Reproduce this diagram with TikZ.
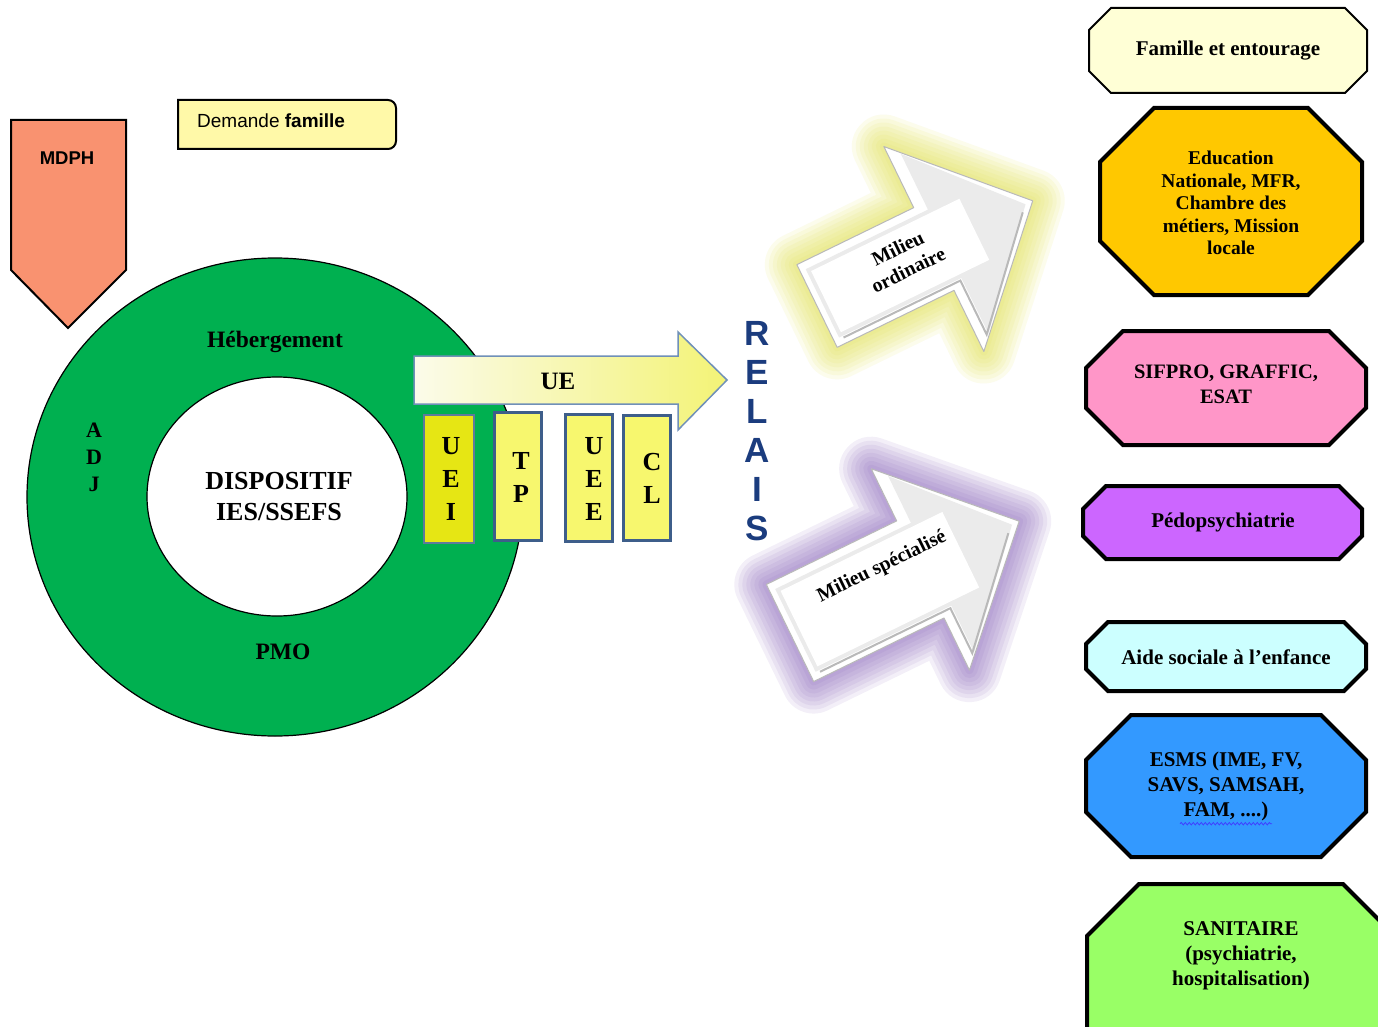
\documentclass[tikz,border=0pt]{standalone}
\usepackage{fontspec}
\setmainfont{Liberation Serif}
\setsansfont{Liberation Sans}
\usetikzlibrary{decorations.pathmorphing}
\definecolor{ringgreen}{HTML}{00B050}
\definecolor{salmon}{HTML}{F99270}
\definecolor{lightyel}{HTML}{FFF9A8}
\definecolor{ueright}{HTML}{F3F376}
\definecolor{ueleft}{HTML}{FBFBEA}
\definecolor{ueline}{HTML}{7090B8}
\definecolor{boxline}{HTML}{3E5E8A}
\definecolor{ueifill}{HTML}{E6E614}
\definecolor{boxfill}{HTML}{F7F76E}
\definecolor{navy}{HTML}{1B3C7E}
\definecolor{glowyel}{HTML}{E2E24A}
\definecolor{glowpur}{HTML}{8A66BC}
\definecolor{cFam}{HTML}{FFFFD6}
\definecolor{cEdu}{HTML}{FFC800}
\definecolor{cSif}{HTML}{FF96C8}
\definecolor{cPed}{HTML}{CC66FF}
\definecolor{cAide}{HTML}{CCFFFF}
\definecolor{cEsms}{HTML}{3399FF}
\definecolor{cSan}{HTML}{99FF66}
\newcommand\mychamf[6]{%
  \draw[#1] (#2+#6,#3) -- (#4-#6,#3) -- (#4,#3+#6) -- (#4,#5-#6) -- (#4-#6,#5) -- (#2+#6,#5) -- (#2,#5-#6) -- (#2,#3+#6) -- cycle;}
\newcommand\bigarr[1]{%
  \path[#1] (0,-\bw) -- (\hb,-\bw) -- (\hb,-\hw) -- (\al,0) -- (\hb,\hw) -- (\hb,\bw) -- (0,\bw) -- cycle;}
\begin{document}
\begin{tikzpicture}[x=1pt,y=-1pt,
  lbl/.style={font=\bfseries\fontsize{21}{25}\selectfont, align=center, text=black, inner sep=0pt},
  ringlbl/.style={font=\bfseries\fontsize{23.5}{27}\selectfont, align=center, inner sep=0pt},
  letters/.style={font=\bfseries\fontsize{26}{33}\selectfont, align=center, inner sep=0pt},
  uebox/.style={draw=boxline, line width=3.5pt, fill=boxfill, minimum width=47pt, inner sep=0pt},
  arrtext/.style={font=\bfseries\fontsize{20}{24}\selectfont, align=center, inner sep=0pt}]
\useasboundingbox (0,0) rectangle (1378,1027);
\fill[white] (0,0) rectangle (1378,1027);

% ---- MDPH pentagon
\draw[fill=salmon, line width=2pt] (11,120) -- (126,120) -- (126,270) -- (68,328) -- (11,270) -- cycle;
\node[font=\sffamily\bfseries\fontsize{18.5}{22}\selectfont, inner sep=0pt] (mdph) at (67,158) {MDPH};

% ---- Demande famille
\draw[fill=lightyel, line width=2pt, rounded corners=0pt] (178,100) -- (388,100) [rounded corners=8pt] -- (396,100) -- (396,149) [rounded corners=0pt] -- (178,149) -- cycle;
\node[font=\sffamily\fontsize{19}{22}\selectfont, inner sep=0pt, anchor=west] (dem) at (197,121) {Demande \textbf{famille}};

% ---- Ring
\fill[ringgreen, even odd rule] (275,497) ellipse [x radius=248, y radius=239] (277,496.5) ellipse [x radius=130, y radius=119.5];
\draw[line width=1.2pt] (275,497) ellipse [x radius=248, y radius=239];
\draw[line width=1.2pt] (277,496.5) ellipse [x radius=130, y radius=119.5];
\node[ringlbl] (heb) at (275,342) {Hébergement};
\node[ringlbl] (pmo) at (283,652) {PMO};
\node[font=\bfseries\fontsize{22}{27}\selectfont, align=center, inner sep=0pt] (adj) at (94,457) {A\\D\\J};
\node[font=\bfseries\fontsize{26}{31}\selectfont, align=center, inner sep=0pt] (disp) at (279,497) {DISPOSITIF\\IES/SSEFS};

% ---- UE arrow
\draw[ueline, line width=1.5pt, left color=ueleft, right color=ueright] (414,356) -- (678,356) -- (678,332) -- (727,380) -- (678,430) -- (678,404) -- (414,404) -- cycle;
\node[font=\bfseries\fontsize{25}{30}\selectfont, inner sep=0pt] (ue) at (558,381) {UE};

% ---- UEI / TP / UEE / CL
\node[uebox, line width=1.5pt, draw=ueline!85!black, fill=ueifill, minimum width=50pt, minimum height=128pt] (uei) at (449,479) {};
\node[letters] at (451,479) (ueit) {U\\E\\I};
\node[uebox, minimum height=128pt] (tp) at (518,476.5) {};
\node[letters] at (521,477.5) (tpt) {T\\P};
\node[uebox, minimum height=127pt] (uee) at (589,478) {};
\node[letters] at (594,478.5) (ueet) {U\\E\\E};
\node[uebox, minimum height=125pt] (cl) at (647,478) {};
\node[letters] at (652,478.5) (clt) {C\\L};

% ---- RELAIS
\node[font=\sffamily\bfseries\fontsize{35}{39}\selectfont, text=navy, align=center, inner sep=0pt] (relais) at (757,431) {R\\E\\L\\A\\I\\S};

% ---- Milieu ordinaire arrow
\begin{scope}[shift={(817,306)}, rotate=26]
  \def\al{240}\def\hb{130}\def\hw{114}\def\bw{46}
  \foreach \w in {64,56,48,40,32,24,16,8}{\bigarr{draw=glowyel, line width=\w pt, line join=round, opacity=0.1}}
  \bigarr{fill=white, draw=gray!55, line width=1pt, line join=round}
  \def\al{226}\def\hb{136}\def\hw{100}\def\bw{38}
  \begin{scope}[shift={(6,0)}]
  \bigarr{fill=gray!16}
  \end{scope}
  \fill[white] (10,-34) rectangle (175,34);
  \draw[gray!55, line width=2pt] (10,40) -- (140,40) -- (140,100) -- (226,6);
\end{scope}
\node[arrtext, rotate=26] (mo) at (903,259) {Milieu\\ordinaire};

% ---- Milieu specialise arrow
\begin{scope}[shift={(790,633)}, rotate=26]
  \def\al{255}\def\hb{145}\def\hw{112}\def\bw{54}
  \foreach \w in {64,56,48,40,32,24,16,8}{\bigarr{draw=glowpur, line width=\w pt, line join=round, opacity=0.1}}
  \bigarr{fill=white, draw=gray!55, line width=1pt, line join=round}
  \def\al{241}\def\hb{151}\def\hw{98}\def\bw{46}
  \begin{scope}[shift={(6,0)}]
  \bigarr{fill=gray!16}
  \end{scope}
  \fill[white] (10,-42) rectangle (190,42);
  \draw[gray!55, line width=2pt] (10,48) -- (155,48) -- (155,98) -- (240,6);
\end{scope}
\node[arrtext, rotate=26] (ms) at (882,567) {Milieu spécialisé};

% ---- Right column
\mychamf{fill=cFam, line width=2pt}{1089}{8}{1367}{93}{22}
\node[lbl] (fam) at (1228,51) {Famille et entourage};
\mychamf{fill=cEdu, line width=4pt}{1100}{108}{1362}{295}{54}
\node[lbl, font=\bfseries\fontsize{19.5}{22.5}\selectfont] (edu) at (1231,203) {Education\\Nationale, MFR,\\Chambre des\\métiers, Mission\\locale};
\mychamf{fill=cSif, line width=4pt}{1086}{331}{1366}{445}{37}
\node[lbl, font=\bfseries\fontsize{20.5}{25}\selectfont] (sif) at (1226,384) {SIFPRO, GRAFFIC,\\ESAT};
\mychamf{fill=cPed, line width=4pt}{1083}{486}{1362}{559}{23}
\node[lbl] (ped) at (1223,522) {Pédopsychiatrie};
\mychamf{fill=cAide, line width=4pt}{1086}{622}{1366}{691}{22}
\node[lbl] (aide) at (1226,657) {Aide sociale à l’enfance};
\mychamf{fill=cEsms, line width=4pt}{1086}{715}{1366}{857}{45}
\node[lbl] (esms) at (1226,786) {ESMS (IME, FV,\\SAVS, SAMSAH,\\FAM, ....)};
\draw[blue!75, line width=0.8pt, decorate, decoration={snake, amplitude=1.2pt, segment length=4pt}] (esms.south west -| 1180,0) ++(0,3) -- ++(92,0);
\mychamf{fill=cSan, line width=4pt}{1087}{884}{1395}{1080}{52}
\node[lbl] (san) at (1241,956) {SANITAIRE\\(psychiatrie,\\hospitalisation)};
\end{tikzpicture}
\end{document}
